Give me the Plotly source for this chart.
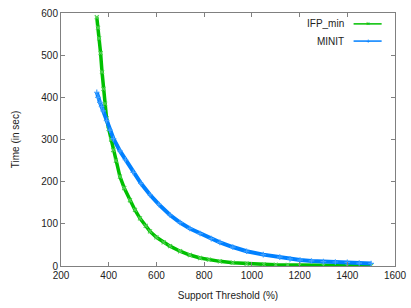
import plotly.graph_objects as go

# IFP_min series
ifp_x = [350, 355, 360, 366, 372, 378, 385, 391, 400, 410, 419, 430, 447, 465, 489, 510,
         531, 555, 573, 600, 630, 657, 699, 740, 783, 820, 866, 920, 978, 1050, 1100,
         1150, 1200, 1300, 1400, 1500]
ifp_y = [590, 565, 540, 505, 460, 420, 385, 350, 325, 300, 275, 250, 212, 185, 156, 133,
         113, 95, 82, 68, 56, 47, 35, 26, 19, 15, 11, 8, 5.5, 4, 3,
         2.5, 2, 1.5, 1, 0.8]

# MINIT series
minit_x = [350, 355, 363, 370, 377, 391, 405, 420, 447, 470, 503, 535, 573, 610, 657,
           699, 740, 783, 830, 866, 920, 978, 1048, 1117, 1160, 1202, 1250, 1300, 1350,
           1400, 1450, 1500]
minit_y = [412, 400, 388, 378, 368, 345, 322, 302, 273, 252, 222, 196, 169, 146, 121,
           103, 89, 77, 65, 56, 45, 35, 27, 21, 17, 14, 12, 10.5, 9.5,
           8.5, 7, 6]

x_ticks = [200, 400, 600, 800, 1000, 1200, 1400, 1600]
y_ticks = [0, 100, 200, 300, 400, 500, 600]

GREEN = "#00c000"
BLUE = "#0080ff"
AXIS = "#808080"
FONT = "Liberation Sans, Arial, sans-serif"
TEXT = "#222222"

fig = go.Figure()
fig.add_trace(go.Scatter(
    x=ifp_x, y=ifp_y, mode="lines+markers", name="IFP_min",
    line=dict(color=GREEN, width=3.5),
    marker=dict(symbol="x-thin", size=4, line=dict(color="#50d050", width=1.2)),
    showlegend=False))
fig.add_trace(go.Scatter(
    x=minit_x, y=minit_y, mode="lines+markers", name="MINIT",
    line=dict(color=BLUE, width=4),
    marker=dict(symbol="cross-thin", size=4, line=dict(color="#40a0ff", width=1.2)),
    showlegend=False))

axis_common = dict(
    showline=True, linecolor=AXIS, linewidth=1, mirror="ticks",
    ticks="inside", ticklen=4, tickcolor=AXIS, tickwidth=1,
    showgrid=False, zeroline=False, automargin=False,
    tickfont=dict(family=FONT, size=10, color=TEXT),
)

fig.update_layout(
    width=411, height=308,
    margin=dict(l=61, r=16, t=13, b=42),
    paper_bgcolor="white", plot_bgcolor="white",
    font=dict(family=FONT, size=10, color=TEXT),
    xaxis=dict(range=[200, 1600], tickvals=x_ticks,
               title=dict(text="Support Threshold (%)", font=dict(family=FONT, size=10, color=TEXT), standoff=11),
               **axis_common),
    yaxis=dict(range=[0, 600], tickvals=y_ticks,
               title=dict(text="Time (in sec)", font=dict(family=FONT, size=10, color=TEXT), standoff=19),
               **axis_common),
)

# gnuplot-style key: label right-aligned, sample line to its right
legend_items = [("IFP_min", GREEN, "×"), ("MINIT", BLUE, "+")]
for i, (label, color, sym) in enumerate(legend_items):
    yy = 0.957 - i * 0.068
    fig.add_annotation(xref="paper", yref="paper", x=0.852, y=yy, text=label,
                       showarrow=False, xanchor="right", yanchor="middle",
                       font=dict(family=FONT, size=10, color=TEXT))
    fig.add_shape(type="line", xref="paper", yref="paper", x0=0.876, x1=0.96, y0=yy, y1=yy,
                  line=dict(color=color, width=1.5))
    fig.add_annotation(xref="paper", yref="paper", x=0.918, y=yy, text=sym,
                       showarrow=False, xanchor="center", yanchor="middle",
                       font=dict(family=FONT, size=7, color=color))

fig.write_html("out.html", config={"displayModeBar": False},
               post_script="document.body.style.margin='0';document.body.style.overflow='hidden';")
